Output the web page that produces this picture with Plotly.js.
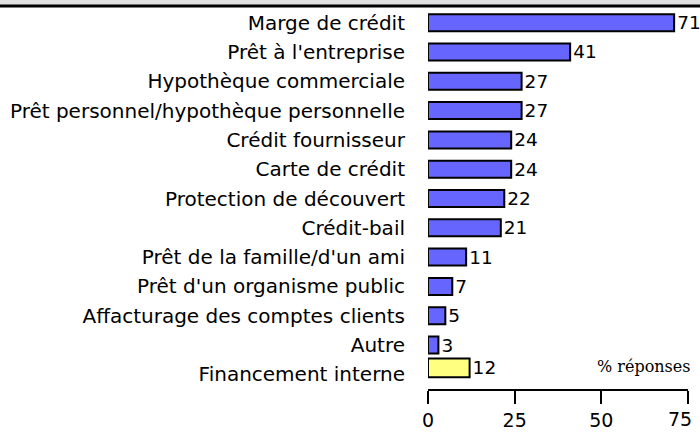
<!DOCTYPE html>
<html><head><meta charset="utf-8">
<script src="https://cdn.plot.ly/plotly-3.0.1.min.js"></script>
<style>html,body{margin:0;padding:0;background:#fff}#chart{width:700px;height:432px}</style>
</head><body><div id="chart"></div>
<script>
const categories = ["Marge de crédit","Prêt à l'entreprise","Hypothèque commerciale","Prêt personnel/hypothèque personnelle","Crédit fournisseur","Carte de crédit","Protection de découvert","Crédit-bail","Prêt de la famille/d'un ami","Prêt d'un organisme public","Affacturage des comptes clients","Autre"];
const values = [71,41,27,27,24,24,22,21,11,7,5,3];
const internalCategory = ["Financement interne"];
const internalValues = [12];
const xTicks = [0,25,50,75];
const xTickText = ["0","25","50","75"];
const unitLabel = "% réponses";

const fam = "DejaVu Sans, Liberation Sans, Arial, sans-serif";
const valFont = {family:fam, size:18.5, color:"#000"};
const tickFont = {family:fam, size:19, color:'#000'};
const lastTick = xTicks.length - 1;
const traces = [
  {type:'bar', orientation:'h', y:categories, x:values, text:values.map(String),
   textposition:'outside', cliponaxis:false, textfont:valFont, constraintext:'none',
   marker:{color:'#6666ff', line:{color:'#000', width:2}}, width:0.58, hoverinfo:'none'},
  {type:'bar', orientation:'h', y:internalCategory, x:internalValues, text:internalValues.map(String),
   textposition:'outside', cliponaxis:false, textfont:valFont, constraintext:'none',
   marker:{color:'#ffff80', line:{color:'#000', width:2}}, width:0.64, offset:-0.54, hoverinfo:'none'}
];
const layout = {
  width:700, height:432,
  margin:{l:428, r:12, t:8, b:43},
  paper_bgcolor:'#fff', plot_bgcolor:'#fff',
  showlegend:false, barmode:'overlay',
  font:{family:fam, size:19.5, color:'#000'},
  xaxis:{range:[0,75], tickvals:xTicks, ticktext:xTickText.map((t,i)=> i===lastTick ? '' : t),
         ticks:'outside', ticklen:13, tickwidth:2, tickcolor:'#000',
         showline:true, linecolor:'#000', linewidth:2, showgrid:false, zeroline:false, fixedrange:true,
         ticklabelstandoff:0, tickfont:tickFont},
  yaxis:{type:'category', categoryorder:'array', categoryarray:categories.concat(internalCategory), autorange:'reversed',
         showline:false, showgrid:false, zeroline:false, ticks:'', ticklabelstandoff:22,
         tickfont:{family:fam, size:20, color:'#000'}},
  shapes:[
    {type:'rect', xref:'paper', yref:'paper', x0:-2, x1:2, y0:1.008, y1:1.03, fillcolor:'#e0e0e0', line:{width:0}},
    {type:'line', xref:'paper', yref:'paper', x0:-2, x1:2, y0:1.0052, y1:1.0052, line:{color:'#000', width:3}}
  ],
  annotations:[
    {text:unitLabel, xref:'paper', yref:'paper', x:1.015, y:0.06, xanchor:'right', yanchor:'middle', showarrow:false,
     font:{family:"DejaVu Serif, Liberation Serif, serif", size:16, color:'#000'}},
    {text:xTickText[lastTick], xref:'x', yref:'paper', x:xTicks[lastTick], xshift:-8, y:-0.079,
     xanchor:'center', yanchor:'middle', showarrow:false, font:tickFont}
  ]
};
Plotly.newPlot('chart', traces, layout, {displayModeBar:false, staticPlot:true});
</script></body></html>
